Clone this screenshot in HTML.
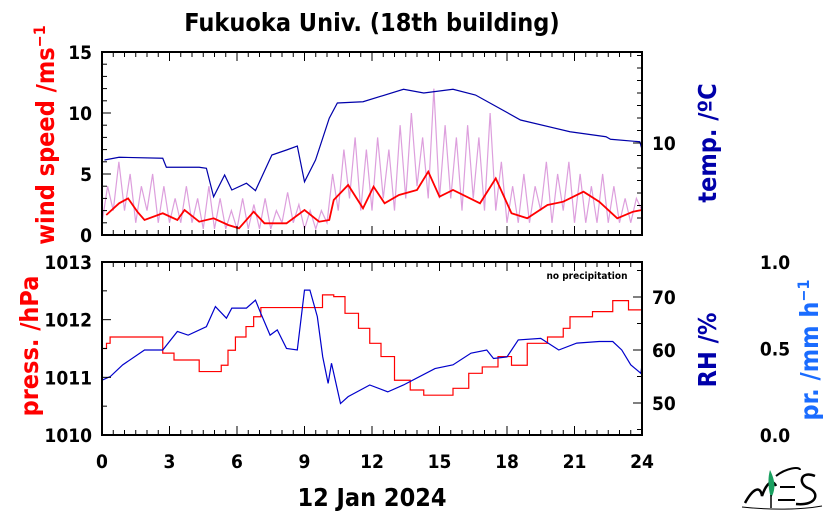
<!DOCTYPE html>
<html><head><meta charset="utf-8">
<style>
html,body{margin:0;padding:0;background:#fff;}
svg{display:block;font-family:"DejaVu Sans Condensed","DejaVu Sans","Liberation Sans",sans-serif;font-weight:bold;}
</style></head>
<body>
<svg id="chart" width="834" height="520" viewBox="0 0 834 520" xmlns="http://www.w3.org/2000/svg">
<text x="372" y="31" text-anchor="middle" font-size="25" fill="#000">Fukuoka Univ. (18th building)</text>
<g id="topPanel"></g>
<g id="botPanel"></g>
<g id="axesG"></g>
<text transform="translate(54,135) rotate(-90)" text-anchor="middle" font-size="25" fill="#ff0000">wind speed /ms<tspan dy="-9" font-size="16">−1</tspan></text>
<text transform="translate(716,143) rotate(-90)" text-anchor="middle" font-size="25" fill="#0000aa">temp. /ºC</text>
<text transform="translate(38,346) rotate(-90)" text-anchor="middle" font-size="25" fill="#ff0000">press. /hPa</text>
<text transform="translate(716,350) rotate(-90)" text-anchor="middle" font-size="25" fill="#0000aa">RH /%</text>
<text transform="translate(818,350) rotate(-90)" text-anchor="middle" font-size="25" fill="#1a6cff">pr. /mm h<tspan dy="-9" font-size="16">−1</tspan></text>
<text x="587" y="279" text-anchor="middle" font-size="10" fill="#000">no precipitation</text>
<text x="372" y="506" text-anchor="middle" font-size="25" fill="#000">12 Jan 2024</text>
<g>
<path d="M745 503 C752 490 760 484 762 496 C766 484 772 478 776 486" fill="none" stroke="#000" stroke-width="2.5"/>
<path d="M770 470 C774 478 777 488 771 498 C769 492 767 480 770 470Z" fill="#1aa060"/>
<line x1="771" y1="495" x2="771" y2="508" stroke="#000" stroke-width="1.5"/>
<path d="M776 476 C786 468 800 466 800 470 M780 487 L795 487 M778 500 L795 500" fill="none" stroke="#000" stroke-width="2"/>
<path d="M815 476 C800 470 798 484 808 488 C820 492 818 506 796 504" fill="none" stroke="#000" stroke-width="2.5"/>
<path d="M742 507 C770 510 800 510 822 506" fill="none" stroke="#000" stroke-width="1"/>
</g>
</svg>
<script>
// ---- data ----
const windHours=[0.19,0.76,1.16,1.57,1.89,2.7,3.35,3.67,4.32,4.96,5.61,6.09,6.74,7.22,8.2,9.0,9.65,10.1,10.3,10.94,11.6,12.07,12.56,13.2,14.0,14.5,15.0,15.6,16.8,17.5,18.2,18.9,19.8,20.5,21.4,22.1,22.9,23.6,24];
const windSpeed=[1.64,2.6,3.0,1.91,1.23,1.78,1.23,2.05,1.09,1.37,0.82,0.55,1.91,0.96,0.96,2.05,1.09,1.23,2.87,4.1,2.19,3.96,2.6,3.28,3.69,5.19,3.14,3.69,2.6,4.64,1.78,1.37,2.46,2.73,3.55,2.73,1.37,1.91,2.05];
const gust=[1,4,2,6,2,5,1,4,2,5,1,4,1,3,1,4,1,3,0.5,4,0.5,3,0.5,2,0.5,3,0.5,2.5,0.5,3,0.5,2,1,3.5,1,2.5,0.5,2,0.5,2,1,5,2,7,3,8,2,7,2,8,3,7,2,9,3,10,4,8,3,12,3,9,3,8,2,9,3,8,2,10,2,6,1,4,1,5,1,4,2,6,1,5,2,6,1,5,1,4,1,5,1,4,1,3,1,3,2];
const tempHours=[0.11,0.76,2.7,2.86,4.32,4.64,4.96,5.45,5.77,6.42,6.82,7.55,8.2,8.68,9.0,9.49,10.1,10.46,11.6,13.4,14.3,15.6,16.6,18.6,20.8,22.4,22.6,23.9,24];
const temp=[8.64,8.86,8.78,8.06,8.06,7.98,5.7,7.44,6.24,6.78,6.19,9.04,9.44,9.76,6.9,8.64,11.98,13.2,13.3,14.3,14.0,14.3,13.84,11.84,10.9,10.5,10.3,10.1,9.5];
const presHours=[0,0.2,0.36,2.35,2.7,3.2,3.7,4.2,4.32,5.3,5.6,5.93,6.4,6.74,7.06,9.49,9.8,10.3,10.8,11.4,11.9,12.4,13.0,13.7,14.3,15.6,16.3,16.9,17.6,18.2,18.9,19.8,20.5,20.8,21.8,22.7,23.4,24];
const pressure=[1011.5,1011.59,1011.7,1011.7,1011.42,1011.3,1011.3,1011.3,1011.1,1011.21,1011.47,1011.7,1011.88,1012.05,1012.21,1012.21,1012.43,1012.4,1012.11,1011.85,1011.59,1011.36,1010.95,1010.78,1010.69,1010.81,1011.07,1011.18,1011.36,1011.21,1011.59,1011.7,1011.85,1012.05,1012.14,1012.33,1012.17,1012.17];
const rhHours=[0,0.37,0.92,1.89,2.7,3.35,3.83,4.64,5.04,5.53,5.77,6.42,6.82,7.06,7.47,7.79,8.2,8.68,9.0,9.24,9.57,9.81,10.05,10.2,10.6,10.94,11.9,12.7,13.4,14.8,15.6,16.4,17.1,17.4,18.0,18.5,19.5,20.3,21.1,22.1,22.7,23.1,23.5,23.95,24];
const rh=[54.3,55.0,57.2,60.0,60.0,63.5,62.8,64.4,68.2,66.0,67.9,67.9,69.4,66.9,62.8,63.8,60.3,60.0,71.3,71.3,66.3,58.7,53.7,57.5,49.9,51.2,53.4,52.1,53.4,56.5,57.2,59.4,60.0,58.4,58.7,61.9,62.2,60.0,61.3,61.6,61.6,60.0,57.2,55.6,57.2];
const xTicks=["0","3","6","9","12","15","18","21","24"];
const windTicks=["0","5","10","15"];
const presTicks=["1010","1011","1012","1013"];
const rhTicks=["50","60","70"];
const prTicks=["0.0","0.5","1.0"];

// ---- axis functions ----
const X0=102,X1=642;
const x=h=>X0+(X1-X0)*h/24;
const yW=v=>235-v*(183/15);
const yT=t=>143-(t-10)*12.5;
const yP=p=>435-(p-1010)*(173/3);
const yR=r=>403-(r-50)*5.3;
const yPr=v=>435-v*173;

const NS="http://www.w3.org/2000/svg";
function mk(tag,attrs,parent){const e=document.createElementNS(NS,tag);for(const k in attrs)e.setAttribute(k,attrs[k]);parent.appendChild(e);return e;}
const topG=document.getElementById('topPanel'),botG=document.getElementById('botPanel'),axG=document.getElementById('axesG');

function line(hs,vs,fx,fy,step){let d='';hs.forEach((h,i)=>{const px=fx(h),py=fy(vs[i]);if(i===0)d+='M'+px+' '+py;else if(step){d+=' H'+px+' V'+py;}else d+=' L'+px+' '+py;});return d;}

const gh=gust.map((_,i)=>i*0.25);
let p=mk('path',{d:line(gh,gust,x,v=>yW(Math.min(v,15))),fill:'none',stroke:'#d27fd2','stroke-width':1.2,'stroke-opacity':0.75},topG);


p=mk('path',{d:line(tempHours,temp,x,yT),fill:'none',stroke:'#0000aa','stroke-width':1.2},topG);


p=mk('path',{d:line(windHours,windSpeed,x,yW),fill:'none',stroke:'#ff0000','stroke-width':1.8},topG);


p=mk('path',{d:line(presHours,pressure,x,yP,true),fill:'none',stroke:'#ff0000','stroke-width':1.2},botG);


p=mk('path',{d:line(rhHours,rh,x,yR),fill:'none',stroke:'#0000cc','stroke-width':1.2},botG);



function frame(yt,yb,name){const r=mk('rect',{x:X0,y:yt,width:X1-X0,height:yb-yt,fill:'none',stroke:'#000','stroke-width':2},axG);
 
 
 for(let i=0;i<=48;i++){const px=x(i*0.5),L=i%6===0?9:5;mk('line',{x1:px,y1:yt,x2:px,y2:yt+L,stroke:'#000','stroke-width':1},axG);mk('line',{x1:px,y1:yb,x2:px,y2:yb-L,stroke:'#000','stroke-width':1},axG);}}
frame(52,235,'top-frame');frame(262,435,'bottom-frame');
for(let v=0;v<=15;v++){const L=v%5===0?9:5;mk('line',{x1:X0,y1:yW(v),x2:X0+L,y2:yW(v),stroke:'#000'},axG);}
for(let t=4;t<=17;t++){const L=t===10?9:5;mk('line',{x1:X1,y1:yT(t),x2:X1-L,y2:yT(t),stroke:'#000'},axG);}
for(let q=0;q<=6;q++){const v=1010+q*0.5;mk('line',{x1:X0,y1:yP(v),x2:X0+(q%2===0?9:5),y2:yP(v),stroke:'#000'},axG);}
for(let r=45;r<=75;r+=5){mk('line',{x1:X1,y1:yR(r),x2:X1-(r%10===0?9:5),y2:yR(r),stroke:'#000'},axG);}
function lab(tx,px,py,anchor,col,name){const t=mk('text',{x:px,y:py,'text-anchor':anchor,'font-size':19,fill:col},axG);t.textContent=tx;
 
 }
xTicks.forEach(s=>lab(s,x(+s),468,'middle','#000','x-tick-label'));
windTicks.forEach(s=>lab(s,92,yW(+s)+7,'end','#000','wind-tick-label'));
presTicks.forEach(s=>lab(s,92,yP(+s)+7,'end','#000','pressure-tick-label'));
rhTicks.forEach(s=>lab(s,652,yR(+s)+7,'start','#000','rh-tick-label'));
prTicks.forEach(s=>lab(s,775,yPr(+s)+7,'middle','#000','precip-tick-label'));
lab('10',652,yT(10)+7,'start','#000','temp-tick-label');
</script>
</body></html>
